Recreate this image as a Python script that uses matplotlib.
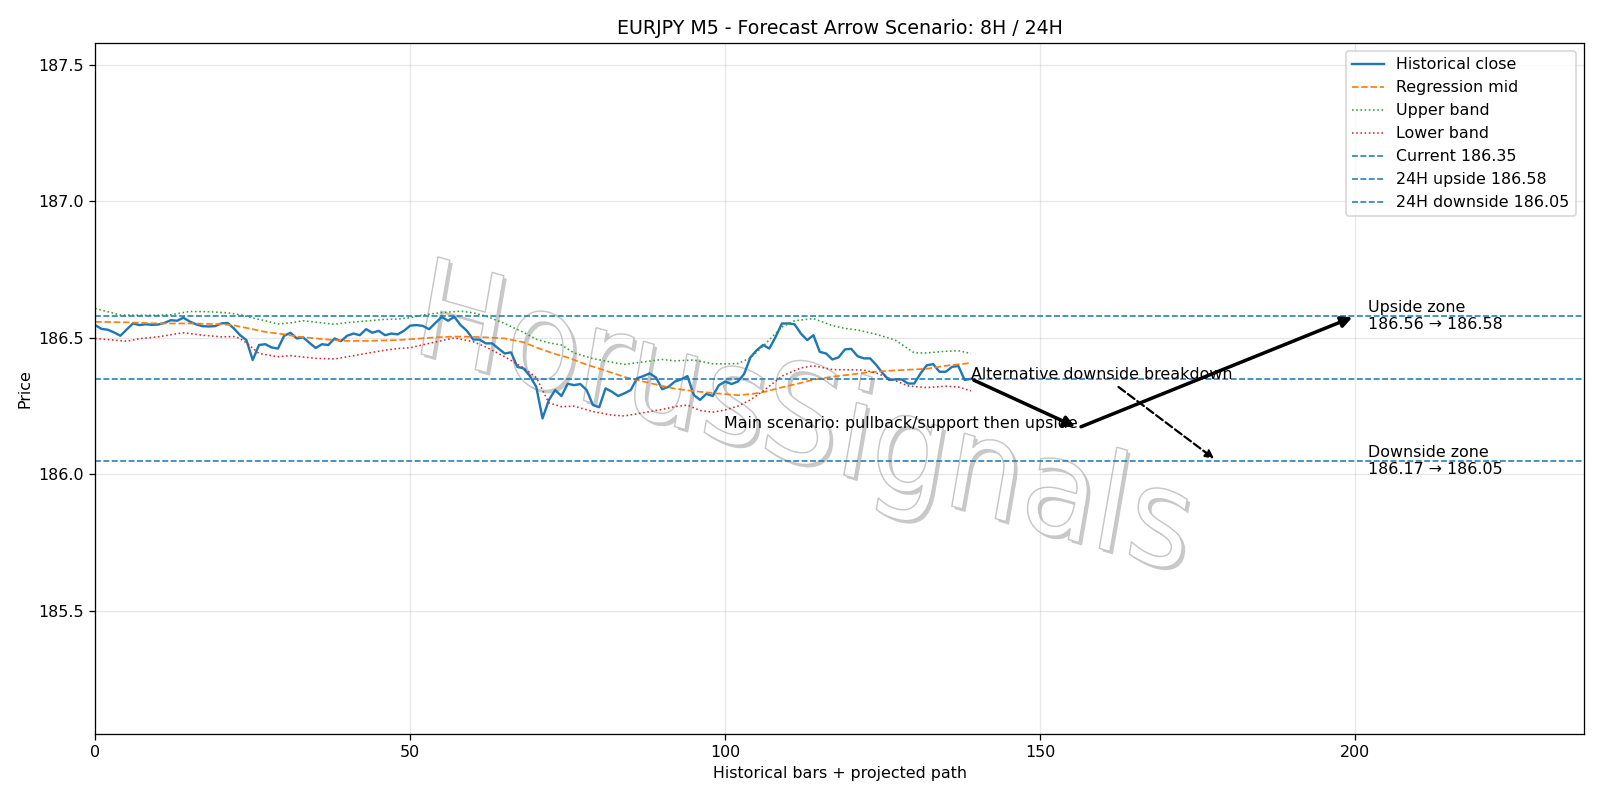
import matplotlib
matplotlib.use("Agg")
import matplotlib.pyplot as plt
from matplotlib.textpath import TextPath
from matplotlib.patches import PathPatch
from matplotlib.font_manager import FontProperties
from matplotlib.transforms import Affine2D
import numpy as np

# historical closes, bars 0..139
close = [
    186.547, 186.533, 186.530, 186.520, 186.508, 186.531, 186.553, 186.547, 186.550, 186.548,
    186.549, 186.555, 186.565, 186.563, 186.574, 186.560, 186.550, 186.543, 186.542, 186.543,
    186.553, 186.555, 186.535, 186.510, 186.492, 186.419, 186.474, 186.477, 186.465, 186.461,
    186.508, 186.519, 186.498, 186.502, 186.482, 186.463, 186.477, 186.474, 186.498, 186.488,
    186.508, 186.516, 186.510, 186.532, 186.519, 186.526, 186.510, 186.516, 186.513, 186.526,
    186.545, 186.547, 186.544, 186.532, 186.555, 186.577, 186.563, 186.577, 186.547, 186.526,
    186.494, 186.494, 186.480, 186.480, 186.461, 186.443, 186.447, 186.394, 186.388, 186.360,
    186.321, 186.205, 186.272, 186.309, 186.287, 186.332, 186.327, 186.331, 186.309, 186.254,
    186.246, 186.315, 186.303, 186.287, 186.297, 186.309, 186.352, 186.360, 186.370, 186.355,
    186.312, 186.321, 186.340, 186.348, 186.360, 186.291, 186.273, 186.295, 186.287, 186.327,
    186.340, 186.331, 186.340, 186.368, 186.429, 186.455, 186.474, 186.461, 186.504, 186.553,
    186.553, 186.550, 186.516, 186.492, 186.510, 186.449, 186.443, 186.421, 186.429, 186.458,
    186.460, 186.433, 186.425, 186.425, 186.400, 186.370, 186.346, 186.348, 186.348, 186.333,
    186.333, 186.370, 186.400, 186.404, 186.376, 186.376, 186.394, 186.397, 186.346, 186.350,
]

# regression mid (read at selected bars)
mid_x = [0, 5, 10, 15, 20, 22, 25, 27, 30, 32, 35, 38, 40, 43, 46, 48, 51, 54, 57, 60,
         62, 65, 68, 70, 73, 75, 78, 81, 84, 87, 90, 92, 95, 98, 100, 102, 104, 106, 109,
         112, 114, 117, 120, 122, 125, 127, 132, 135, 139]
mid_y = [186.559, 186.557, 186.553, 186.553, 186.550, 186.546, 186.532, 186.522, 186.513,
         186.505, 186.498, 186.492, 186.489, 186.489, 186.491, 186.492, 186.497, 186.502,
         186.505, 186.504, 186.502, 186.498, 186.484, 186.465, 186.441, 186.428, 186.402,
         186.380, 186.357, 186.340, 186.324, 186.314, 186.305, 186.298, 186.294, 186.290,
         186.294, 186.301, 186.319, 186.335, 186.347, 186.358, 186.366, 186.372, 186.378,
         186.381, 186.387, 186.398, 186.408]

up_x = [0, 2, 4, 7, 10, 12, 15, 18, 21, 23, 25, 27, 29, 31, 33, 35, 38, 40, 43, 46, 48,
        50, 52, 55, 58, 60, 62, 65, 68, 70, 72, 74, 76, 79, 82, 84, 87, 90, 92, 95, 98,
        100, 102, 104, 106, 109, 111, 114, 117, 119, 121, 124, 127, 130, 132, 135, 137, 139]
up_y = [186.608, 186.596, 186.584, 186.583, 186.583, 186.585, 186.597, 186.596, 186.592,
        186.585, 186.573, 186.563, 186.551, 186.555, 186.563, 186.558, 186.550, 186.556,
        186.562, 186.568, 186.569, 186.574, 186.584, 186.593, 186.598, 186.592, 186.580,
        186.553, 186.520, 186.495, 186.482, 186.474, 186.445, 186.424, 186.411, 186.403,
        186.412, 186.421, 186.416, 186.419, 186.405, 186.405, 186.406, 186.427, 186.470,
        186.540, 186.563, 186.571, 186.545, 186.535, 186.529, 186.513, 186.492, 186.445,
        186.445, 186.451, 186.453, 186.443]

lo_x = [0, 2, 5, 7, 10, 14, 17, 20, 22, 23, 24, 26, 29, 31, 35, 38, 40, 43, 46, 48, 50,
        53, 57, 60, 62, 65, 68, 70, 71, 72, 74, 76, 79, 82, 84, 87, 90, 92, 94, 96, 98,
        100, 102, 104, 106, 109, 112, 114, 117, 120, 122, 124, 127, 129, 132, 135, 137, 139]
lo_y = [186.498, 186.494, 186.488, 186.497, 186.504, 186.519, 186.510, 186.504, 186.505,
        186.498, 186.482, 186.443, 186.431, 186.435, 186.425, 186.423, 186.431, 186.443,
        186.455, 186.461, 186.464, 186.480, 186.500, 186.486, 186.467, 186.431, 186.390,
        186.355, 186.309, 186.262, 186.248, 186.250, 186.230, 186.217, 186.214, 186.226,
        186.238, 186.248, 186.254, 186.234, 186.228, 186.236, 186.250, 186.273, 186.305,
        186.360, 186.390, 186.398, 186.384, 186.383, 186.382, 186.371, 186.343, 186.324,
        186.318, 186.323, 186.320, 186.306]

current = 186.35
up_24h = 186.58
down_24h = 186.05
pivot = (156, 186.17)
up_target = (200, 186.58)
down_target = (178, 186.05)

fig, ax = plt.subplots(figsize=(14, 7), dpi=1600 / 14)
fig.subplots_adjust(left=0.0595, right=0.99, top=0.946, bottom=0.083)

bars = np.arange(len(close))
ax.plot(bars, close, color="C0", lw=1.5, label="Historical close")
ax.plot(mid_x, mid_y, color="C1", ls="--", lw=1.1, label="Regression mid")
ax.plot(up_x, up_y, color="C2", ls=":", lw=1, label="Upper band")
ax.plot(lo_x, lo_y, color="C3", ls=":", lw=1, label="Lower band")
ax.axhline(current, color="C0", ls="--", lw=1, label=f"Current {current:.2f}")
ax.axhline(up_24h, color="C0", ls="--", lw=1, label=f"24H upside {up_24h:.2f}")
ax.axhline(down_24h, color="C0", ls="--", lw=1, label=f"24H downside {down_24h:.2f}")

# scenario arrows
last = (bars[-1], close[-1])
ax.annotate("", xy=pivot, xytext=(last[0], current),
            arrowprops=dict(arrowstyle="-|>", color="black", lw=2.2, mutation_scale=14))
ax.annotate("", xy=up_target, xytext=pivot,
            arrowprops=dict(arrowstyle="-|>", color="black", lw=2.2, mutation_scale=14))
ax.text(pivot[0], pivot[1], "Main scenario: pullback/support then upside", ha="right")
ax.annotate("Alternative downside breakdown", xy=down_target, xytext=(last[0], current),
            arrowprops=dict(arrowstyle="-|>", color="black", lw=1.4, ls="--", mutation_scale=11))

ax.text(202, up_24h, "Upside zone\n186.56 \u2192 186.58", va="center")
ax.text(202, down_24h, "Downside zone\n186.17 \u2192 186.05", va="center")

# watermark (pixel geometry, origin bottom-left): grey shadow + white face
tp = TextPath((0, 0), "HorusSignals", size=1,
              prop=FontProperties(family="DejaVu Sans", style="oblique"))
ext = tp.get_extents()
sx = 766 / ext.width
sy = 102 / 0.73
base = Affine2D().scale(sx, sy).skew_deg(0, -16)
wm = [(3, -3, "#c9c9c9", "none", 0.0, 0.78),
      (0, 0, "white", "#c6c6c6", 0.9, 0.8)]
for dx, dy, face, edge, lw, z in wm:
    tr = base.frozen().translate(418 + dx, 447 + dy).scale(1 / fig.dpi) + fig.dpi_scale_trans
    ax.add_patch(PathPatch(tp, transform=tr, facecolor=face, edgecolor=edge,
                           lw=lw, zorder=z, clip_on=False))

ax.set_xlim(0, 236.3)
ax.set_ylim(down_24h - 1.0, up_24h + 1.0)
ax.set_title("EURJPY M5 - Forecast Arrow Scenario: 8H / 24H")
ax.set_xlabel("Historical bars + projected path")
ax.set_ylabel("Price")
ax.grid(alpha=0.3)
ax.legend(loc="upper right")

fig.savefig("out.png", dpi=fig.dpi)
